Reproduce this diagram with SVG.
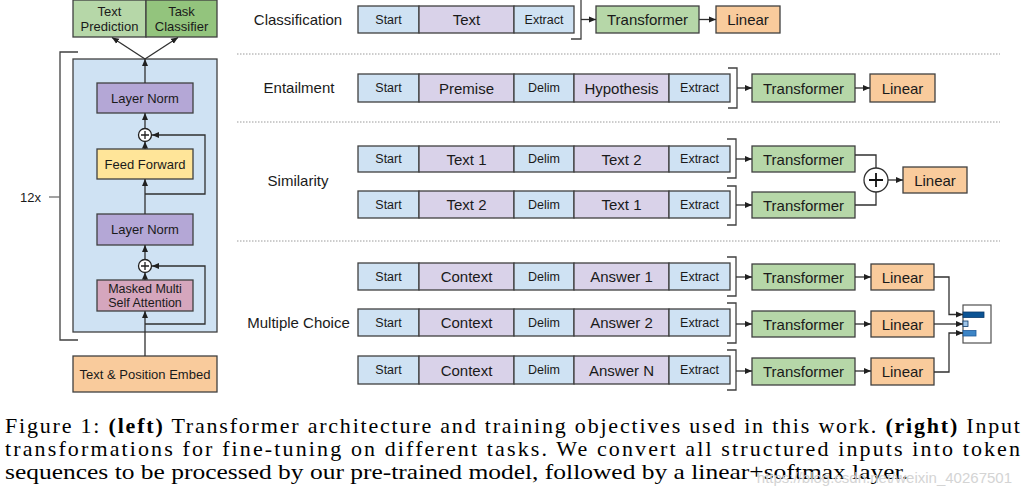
<svg xmlns="http://www.w3.org/2000/svg" width="1024" height="502" viewBox="0 0 1024 502">
<style>
.b{stroke:#404040;stroke-width:1.3}
.bl{fill:#CFE2F3}.pu{fill:#D9D2E9}.gr{fill:#B6D7A8}.or{fill:#F9CB9C}
.ln{fill:#B4A7D6}.ff{fill:#FFE599}.ms{fill:#D5A6BD}.tc{fill:#93C47D}
text{font-family:"Liberation Sans",Arial,sans-serif;fill:#1a1a1a}
.t{text-anchor:middle;dominant-baseline:central}
.s{font-size:12.5px}.m{font-size:15px}.l{font-size:13px}
.lab{font-size:15px;text-anchor:middle;dominant-baseline:central}
.w{fill:none;stroke:#303030;stroke-width:1.3}
.br{fill:none;stroke:#404040;stroke-width:1.3}
.sep{stroke:#9a9a9a;stroke-width:1;stroke-dasharray:1.5 1.5}
.cap{font-family:"Liberation Serif","Times New Roman",serif;font-size:22px;fill:#000}
</style>
<defs>
<marker id="ah" markerWidth="8" markerHeight="8" refX="7" refY="4" orient="auto" markerUnits="userSpaceOnUse">
<path d="M0,1 L7,4 L0,7 Z" fill="#202020"/>
</marker>
</defs>

<!-- LEFT ARCHITECTURE -->
<g id="outputs">
<rect class="b gr" x="73" y="0" width="73" height="37"/>
<rect class="b tc" x="146" y="0" width="71" height="37"/>
<text class="t l" x="109.5" y="11">Text</text>
<text class="t l" x="109.5" y="26">Prediction</text>
<text class="t l" x="181.5" y="11">Task</text>
<text class="t l" x="181.5" y="26">Classifier</text>
</g>
<g id="repeat-bracket">
<path class="br" d="M78,52 H60 V340 H78" stroke="#707070"/>
<line x1="49" y1="197" x2="60" y2="197" stroke="#707070" stroke-width="1.3"/>
<text class="l" x="20" y="202">12x</text>
</g>
<g id="block">
<rect class="b bl" x="73" y="59" width="144" height="273"/>
</g>
<g id="layernorm2">
<rect class="b ln" x="97" y="83" width="96" height="30"/>
<text class="t l" x="145" y="98">Layer Norm</text>
</g>
<g id="add2">
<circle cx="145" cy="135" r="6.5" fill="#fff" stroke="#202020" stroke-width="1.3"/>
<path d="M141,135 H149 M145,131 V139" stroke="#202020" stroke-width="1.3"/>
</g>
<g id="feedforward">
<rect class="b ff" x="97" y="149" width="96" height="30"/>
<text class="t l" x="145" y="164">Feed Forward</text>
</g>
<g id="layernorm1">
<rect class="b ln" x="97" y="214" width="96" height="31"/>
<text class="t l" x="145" y="229.5">Layer Norm</text>
</g>
<g id="add1">
<circle cx="145" cy="266" r="6.5" fill="#fff" stroke="#202020" stroke-width="1.3"/>
<path d="M141,266 H149 M145,262 V270" stroke="#202020" stroke-width="1.3"/>
</g>
<g id="attention">
<rect class="b ms" x="97" y="280" width="96" height="31"/>
<text class="t s" x="145" y="288.5">Masked Multi</text>
<text class="t s" x="145" y="302.5">Self Attention</text>
</g>
<g id="embed">
<rect class="b or" x="73" y="356" width="144" height="36"/>
<text class="t l" x="145" y="374">Text &amp; Position Embed</text>
</g>

<!-- RIGHT: TASKS -->
<g id="label-classification"><text class="lab" x="298" y="19">Classification</text></g>
<g id="cls-input">
<rect class="b bl" x="358" y="6" width="61" height="27"/>
<rect class="b pu" x="419" y="6" width="95" height="27"/>
<rect class="b bl" x="514" y="6" width="60" height="27"/>
<text class="t s" x="388.5" y="19.5">Start</text>
<text class="t m" x="466.5" y="19.5">Text</text>
<text class="t s" x="544" y="19.5">Extract</text>
<path class="br" d="M571,-1 H581 V39 H571"/>
</g>
<g id="cls-transformer"><rect class="b gr" x="596" y="6" width="103" height="27"/><text class="t m" x="647.5" y="19.5">Transformer</text></g>
<g id="cls-linear"><rect class="b or" x="716" y="6" width="64" height="27"/><text class="t m" x="748" y="19.5">Linear</text></g>

<g id="separators">
<line class="sep" x1="237" y1="54" x2="1000" y2="54"/>
<line class="sep" x1="237" y1="122" x2="1000" y2="122"/>
<line class="sep" x1="237" y1="241" x2="1000" y2="241"/>
</g>

<g id="label-entailment"><text class="lab" x="299" y="87">Entailment</text></g>
<g id="ent-input">
<rect class="b bl" x="358" y="74" width="61" height="28"/>
<rect class="b pu" x="419" y="74" width="95" height="28"/>
<rect class="b bl" x="514" y="74" width="60" height="28"/>
<rect class="b pu" x="574" y="74" width="95" height="28"/>
<rect class="b bl" x="669" y="74" width="61" height="28"/>
<text class="t s" x="388.5" y="88">Start</text>
<text class="t m" x="466.5" y="88">Premise</text>
<text class="t s" x="544" y="88">Delim</text>
<text class="t m" x="621.5" y="88">Hypothesis</text>
<text class="t s" x="699.5" y="88">Extract</text>
<path class="br" d="M728,68 H737 V108 H728"/>
</g>
<g id="ent-transformer"><rect class="b gr" x="752" y="74" width="103" height="28"/><text class="t m" x="803.5" y="88">Transformer</text></g>
<g id="ent-linear"><rect class="b or" x="870" y="74" width="65" height="28"/><text class="t m" x="902.5" y="88">Linear</text></g>

<g id="label-similarity"><text class="lab" x="298" y="180">Similarity</text></g>
<g id="sim-input1">
<rect class="b bl" x="358" y="146" width="61" height="26"/>
<rect class="b pu" x="419" y="146" width="95" height="26"/>
<rect class="b bl" x="514" y="146" width="60" height="26"/>
<rect class="b pu" x="574" y="146" width="95" height="26"/>
<rect class="b bl" x="669" y="146" width="61" height="26"/>
<text class="t s" x="388.5" y="159">Start</text>
<text class="t m" x="466.5" y="159">Text 1</text>
<text class="t s" x="544" y="159">Delim</text>
<text class="t m" x="621.5" y="159">Text 2</text>
<text class="t s" x="699.5" y="159">Extract</text>
<path class="br" d="M727,139 H736 V178 H727"/>
</g>
<g id="sim-input2">
<rect class="b bl" x="358" y="191" width="61" height="27"/>
<rect class="b pu" x="419" y="191" width="95" height="27"/>
<rect class="b bl" x="514" y="191" width="60" height="27"/>
<rect class="b pu" x="574" y="191" width="95" height="27"/>
<rect class="b bl" x="669" y="191" width="61" height="27"/>
<text class="t s" x="388.5" y="204.5">Start</text>
<text class="t m" x="466.5" y="204.5">Text 2</text>
<text class="t s" x="544" y="204.5">Delim</text>
<text class="t m" x="621.5" y="204.5">Text 1</text>
<text class="t s" x="699.5" y="204.5">Extract</text>
<path class="br" d="M727,186 H736 V225 H727"/>
</g>
<g id="sim-transformer1"><rect class="b gr" x="752" y="146" width="103" height="26"/><text class="t m" x="803.5" y="159">Transformer</text></g>
<g id="sim-transformer2"><rect class="b gr" x="752" y="192" width="103" height="26"/><text class="t m" x="803.5" y="205">Transformer</text></g>
<g id="sim-add">
<circle cx="876" cy="180" r="12" fill="#fff" stroke="#303030" stroke-width="1.3"/>
<path d="M869,180 H883 M876,173 V187" stroke="#101010" stroke-width="1.8"/>
</g>
<g id="sim-linear"><rect class="b or" x="903" y="167" width="64" height="26"/><text class="t m" x="935" y="180">Linear</text></g>

<g id="label-multiple-choice"><text class="lab" x="298.5" y="322">Multiple Choice</text></g>
<g id="mc-input1">
<rect class="b bl" x="358" y="263" width="61" height="27"/>
<rect class="b pu" x="419" y="263" width="95" height="27"/>
<rect class="b bl" x="514" y="263" width="60" height="27"/>
<rect class="b pu" x="574" y="263" width="95" height="27"/>
<rect class="b bl" x="669" y="263" width="61" height="27"/>
<text class="t s" x="388.5" y="276.5">Start</text>
<text class="t m" x="466.5" y="276.5">Context</text>
<text class="t s" x="544" y="276.5">Delim</text>
<text class="t m" x="621.5" y="276.5">Answer 1</text>
<text class="t s" x="699.5" y="276.5">Extract</text>
<path class="br" d="M727,257 H736 V296 H727"/>
</g>
<g id="mc-input2">
<rect class="b bl" x="358" y="309" width="61" height="27"/>
<rect class="b pu" x="419" y="309" width="95" height="27"/>
<rect class="b bl" x="514" y="309" width="60" height="27"/>
<rect class="b pu" x="574" y="309" width="95" height="27"/>
<rect class="b bl" x="669" y="309" width="61" height="27"/>
<text class="t s" x="388.5" y="322.5">Start</text>
<text class="t m" x="466.5" y="322.5">Context</text>
<text class="t s" x="544" y="322.5">Delim</text>
<text class="t m" x="621.5" y="322.5">Answer 2</text>
<text class="t s" x="699.5" y="322.5">Extract</text>
<path class="br" d="M727,303 H736 V343 H727"/>
</g>
<g id="mc-input3">
<rect class="b bl" x="358" y="356" width="61" height="28"/>
<rect class="b pu" x="419" y="356" width="95" height="28"/>
<rect class="b bl" x="514" y="356" width="60" height="28"/>
<rect class="b pu" x="574" y="356" width="95" height="28"/>
<rect class="b bl" x="669" y="356" width="61" height="28"/>
<text class="t s" x="388.5" y="370">Start</text>
<text class="t m" x="466.5" y="370">Context</text>
<text class="t s" x="544" y="370">Delim</text>
<text class="t m" x="621.5" y="370">Answer N</text>
<text class="t s" x="699.5" y="370">Extract</text>
<path class="br" d="M727,350 H736 V390 H727"/>
</g>
<g id="mc-transformer1"><rect class="b gr" x="752" y="264" width="103" height="26"/><text class="t m" x="803.5" y="277">Transformer</text></g>
<g id="mc-transformer2"><rect class="b gr" x="752" y="311" width="103" height="26"/><text class="t m" x="803.5" y="324">Transformer</text></g>
<g id="mc-transformer3"><rect class="b gr" x="752" y="358" width="103" height="27"/><text class="t m" x="803.5" y="371.5">Transformer</text></g>
<g id="mc-linear1"><rect class="b or" x="871" y="264" width="63" height="26"/><text class="t m" x="902.5" y="277">Linear</text></g>
<g id="mc-linear2"><rect class="b or" x="871" y="311" width="63" height="26"/><text class="t m" x="902.5" y="324">Linear</text></g>
<g id="mc-linear3"><rect class="b or" x="871" y="358" width="63" height="27"/><text class="t m" x="902.5" y="371.5">Linear</text></g>
<g id="softmax">
<rect x="963" y="305" width="28" height="38" fill="#fff" stroke="#505050" stroke-width="1.2"/>
<rect x="963" y="312" width="21" height="5.5" fill="#0B5394" stroke="#0B3A6A" stroke-width="0.8"/>
<rect x="963" y="321" width="5" height="5.5" fill="#9FC5E8" stroke="#0B3A6A" stroke-width="0.8"/>
<rect x="963" y="330.5" width="13" height="5.5" fill="#3D85C6" stroke="#1F5A99" stroke-width="0.8"/>
</g>

<!-- CONNECTORS -->
<g id="connectors">
<line class="w" x1="145" y1="356" x2="145" y2="311" marker-end="url(#ah)"/>
<polyline class="w" points="145,324 205,324 205,266 152,266" marker-end="url(#ah)"/>
<line class="w" x1="145" y1="280" x2="145" y2="272.5" marker-end="url(#ah)"/>
<line class="w" x1="145" y1="259.5" x2="145" y2="245" marker-end="url(#ah)"/>
<line class="w" x1="145" y1="214" x2="145" y2="179" marker-end="url(#ah)"/>
<polyline class="w" points="145,194 205,194 205,135 152,135" marker-end="url(#ah)"/>
<line class="w" x1="145" y1="149" x2="145" y2="141.5" marker-end="url(#ah)"/>
<line class="w" x1="145" y1="128.5" x2="145" y2="113" marker-end="url(#ah)"/>
<line class="w" x1="145" y1="83" x2="145" y2="59" marker-end="url(#ah)"/>
<line class="w" x1="145" y1="59" x2="112" y2="37.5" marker-end="url(#ah)"/>
<line class="w" x1="145" y1="59" x2="178" y2="37.5" marker-end="url(#ah)"/>

<line class="w" x1="581" y1="19.5" x2="596" y2="19.5" marker-end="url(#ah)"/>
<line class="w" x1="699" y1="19.5" x2="716" y2="19.5" marker-end="url(#ah)"/>
<line class="w" x1="737" y1="88" x2="752" y2="88" marker-end="url(#ah)"/>
<line class="w" x1="855" y1="88" x2="870" y2="88" marker-end="url(#ah)"/>

<line class="w" x1="736" y1="159" x2="752" y2="159" marker-end="url(#ah)"/>
<line class="w" x1="736" y1="205" x2="752" y2="205" marker-end="url(#ah)"/>
<polyline class="w" points="855,155 876,155 876,168"/>
<polyline class="w" points="855,205 876,205 876,192"/>
<line class="w" x1="888" y1="180" x2="903" y2="180" marker-end="url(#ah)"/>

<line class="w" x1="736" y1="277" x2="752" y2="277" marker-end="url(#ah)"/>
<line class="w" x1="736" y1="324" x2="752" y2="324" marker-end="url(#ah)"/>
<line class="w" x1="736" y1="371" x2="752" y2="371" marker-end="url(#ah)"/>
<line class="w" x1="855" y1="277" x2="871" y2="277" marker-end="url(#ah)"/>
<line class="w" x1="855" y1="324" x2="871" y2="324" marker-end="url(#ah)"/>
<line class="w" x1="855" y1="371" x2="871" y2="371" marker-end="url(#ah)"/>
<polyline class="w" points="934,277 949,277 949,314.5 963,314.5" marker-end="url(#ah)"/>
<line class="w" x1="934" y1="324" x2="963" y2="324" marker-end="url(#ah)"/>
<polyline class="w" points="934,372 949,372 949,333 963,333" marker-end="url(#ah)"/>
</g>

<!-- CAPTION -->
<g id="caption">
<text class="cap" x="5" y="433" textLength="1015" lengthAdjust="spacing">Figure 1: <tspan font-weight="bold">(left)</tspan> Transformer architecture and training objectives used in this work. <tspan font-weight="bold">(right)</tspan> Input</text>
<text class="cap" x="5" y="456" textLength="1015" lengthAdjust="spacing">transformations for fine-tuning on different tasks.  We convert all structured inputs into token</text>
<text class="cap" x="5" y="479" textLength="903" lengthAdjust="spacingAndGlyphs">sequences to be processed by our pre-trained model, followed by a linear+softmax layer.</text>
<text x="1012" y="483" text-anchor="end" style="font-size:15px;fill:#d4d4d4;font-family:'Liberation Sans',Arial,sans-serif">https://blog.csdn.net/weixin_40267501</text>
</g>
</svg>
